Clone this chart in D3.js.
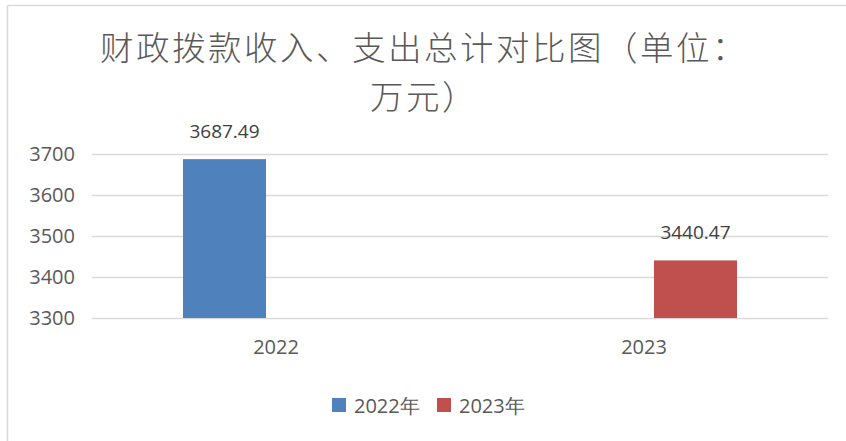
<!DOCTYPE html>
<html><head><meta charset="utf-8">
<script src="https://cdn.jsdelivr.net/npm/d3@7/dist/d3.min.js"></script>
<style>html,body{margin:0;padding:0;background:#fff;}svg{display:block;}</style>
</head><body>
<svg id="chart" width="846" height="441"></svg>
<script>
const titleLines = ["财政拨款收入、支出总计对比图（单位：", "万元）"];
const categories = ["2022", "2023"];
const seriesNames = ["2022年", "2023年"];
const series2022 = [3687.49, null];
const series2023 = [null, 3440.47];
const yTicks = [3300, 3400, 3500, 3600, 3700];
const colors = ["#4f81bd", "#c0504d"];

const seriesValues = [series2022, series2023];
const svg = d3.select("#chart");
const W = 846, H = 441;
const plot = {left: 92, right: 828, top: 154, bottom: 318};
const numFont = "'Open Sans', 'DejaVu Sans', sans-serif";
const txt = "#595959";

// border
svg.append("line").attr("x1", 7.5).attr("x2", W).attr("y1", 5.5).attr("y2", 5.5)
  .attr("stroke", "#d9d9d9").attr("stroke-width", 1.5);
svg.append("line").attr("x1", 7.5).attr("x2", 7.5).attr("y1", 5.5).attr("y2", H)
  .attr("stroke", "#d9d9d9").attr("stroke-width", 1.5);

// title (two separate lines)
titleLines.forEach((t, i) => {
  svg.append("text").attr("text-anchor", "middle")
    .attr("font-family", "'Noto Sans CJK SC', sans-serif").attr("font-weight", 300)
    .attr("font-size", 33.5).attr("letter-spacing", 2.5).attr("fill", txt)
    .attr("x", 424).attr("y", 60 + i * 49).text(t);
});

const y = d3.scaleLinear().domain([3300, 3700]).range([plot.bottom, plot.top]);
const x0 = d3.scaleBand().domain(categories).range([plot.left, plot.right])
  .paddingInner(0.4946).paddingOuter(0.2473);
const x1 = d3.scaleBand().domain(seriesNames).range([0, x0.bandwidth()]).paddingInner(0.194);

// grid
const yAxis = d3.axisLeft(y).tickValues(yTicks).tickSize(-(plot.right - plot.left)).tickPadding(17).tickFormat(d3.format("d"));
const gy = svg.append("g").attr("transform", `translate(${plot.left},0)`).call(yAxis);
gy.select(".domain").remove();
gy.selectAll(".tick line").attr("stroke", "#d9d9d9").attr("stroke-width", 1.5);
gy.selectAll(".tick text").attr("font-family", numFont).attr("font-size", 20).attr("fill", txt);

// x axis labels
const xAxis = d3.axisBottom(x0).tickSize(0).tickPadding(22);
const gx = svg.append("g").attr("transform", `translate(0,${plot.bottom})`).call(xAxis);
gx.select(".domain").remove();
gx.selectAll(".tick text").attr("font-family", numFont).attr("font-size", 20).attr("fill", txt);

// bars
categories.forEach((c, ci) => {
  seriesNames.forEach((s, si) => {
    const v = seriesValues[si][ci];
    if (v == null) return;
    const bx = x0(c) + x1(s);
    svg.append("rect").attr("x", bx).attr("y", y(v))
      .attr("width", x1.bandwidth()).attr("height", y(3300) - y(v))
      .attr("fill", colors[si]);
    svg.append("text").attr("x", bx + x1.bandwidth() / 2).attr("y", y(v) - 21)
      .attr("text-anchor", "middle").attr("font-family", numFont).attr("font-size", 19)
      .attr("fill", "#404040").text(v.toFixed(2));
  });
});

// legend
const legend = svg.append("g");
const legX = [332, 437];
seriesNames.forEach((s, i) => {
  legend.append("rect").attr("x", legX[i]).attr("y", 398).attr("width", 14).attr("height", 14).attr("fill", colors[i]);
  legend.append("text").attr("x", legX[i] + 22).attr("y", 412.5)
    .attr("font-family", numFont).attr("font-size", 20).attr("fill", txt).text(s);
});
</script>
</body></html>
